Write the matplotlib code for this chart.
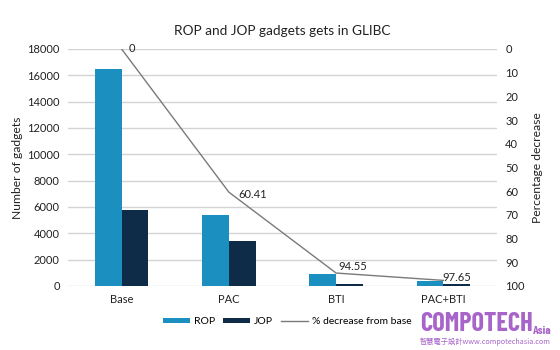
import matplotlib.pyplot as plt
import numpy as np

plt.rcParams['font.family'] = ['Lato', 'DejaVu Sans']

categories = ['Base', 'PAC', 'BTI', 'PAC+BTI']
rop = [16500, 5400, 900, 360]
jop = [5800, 3450, 180, 180]
pct_decrease = [0, 60.41, 94.55, 97.65]

rop_color = '#1b8fc0'
jop_color = '#0e2c48'
line_color = '#7a7a7a'
mark_color = '#a865c9'

fig = plt.figure(figsize=(5.6, 3.5), dpi=100)
ax = fig.add_axes([0.1214, 0.183, 0.766, 0.677])

x = np.arange(len(categories))
w = 0.25
ax.bar(x - w / 2, rop, w, color=rop_color, label='ROP', zorder=3)
ax.bar(x + w / 2, jop, w, color=jop_color, label='JOP', zorder=3)

ax.set_xlim(-0.5, len(categories) - 0.5)
ax.set_ylim(0, 18000)
ax.set_yticks(np.arange(0, 18001, 2000))
ax.set_xticks(x)
ax.set_xticklabels(categories)
ax.grid(axis='y', color='#d4d4d4', linewidth=1, zorder=0)
for s in ax.spines.values():
    s.set_visible(False)
ax.tick_params(length=0, labelsize=8, colors='#222222', pad=6)
ax.set_ylabel('Number of gadgets', fontsize=8.7, color='#222222', labelpad=3)

# percentage decrease on an inverted right axis
ax2 = ax.twinx()
ax2.plot(x, pct_decrease, color=line_color, linewidth=1.0, label='% decrease from base', zorder=4)
ax2.set_ylim(100, 0)
ax2.set_yticks(np.arange(0, 101, 10))
for s in ax2.spines.values():
    s.set_visible(False)
ax2.tick_params(length=0, labelsize=8, colors='#222222', pad=6)
ax2.set_ylabel('Percentage decrease', fontsize=8.7, color='#222222', labelpad=5)

# value labels next to each point (offsets in points)
offsets = [(5, 0), (7, -1.4), (1.4, 5.0), (-0.7, 2.0)]
for xi, p, off in zip(x, pct_decrease, offsets):
    ax2.annotate(f'{p:g}', (xi, p), xytext=off, textcoords='offset points',
                 ha='left', va='center', fontsize=8, color='#222222')

ax.set_title('ROP and JOP gadgets gets in GLIBC', fontsize=9.8, color='#222222', pad=10)

h1, l1 = ax.get_legend_handles_labels()
h2, l2 = ax2.get_legend_handles_labels()
fig.legend(h1 + h2, l1 + l2, loc='center', bbox_to_anchor=(0.513, 0.08), ncol=3,
           frameon=False, fontsize=7.5, handlelength=2.6, handleheight=0.35,
           columnspacing=0.8, handletextpad=0.35)

# site watermark
fig.text(0.75, 0.04, 'COMPOTECH', fontsize=19, fontweight='bold', color=mark_color,
         family=['Barlow Condensed', 'DejaVu Sans'], va='bottom')
fig.text(0.952, 0.04, 'Asia', fontsize=8.5, fontweight='bold', color=mark_color,
         family=['Barlow Condensed', 'DejaVu Sans'], va='bottom')
fig.text(0.75, 0.011, '智慧電子設計www.compotechasia.com', fontsize=5.2, color=mark_color,
         family=['Noto Sans CJK TC', 'DejaVu Sans'], va='bottom')

fig.savefig('out.png', dpi=100)
